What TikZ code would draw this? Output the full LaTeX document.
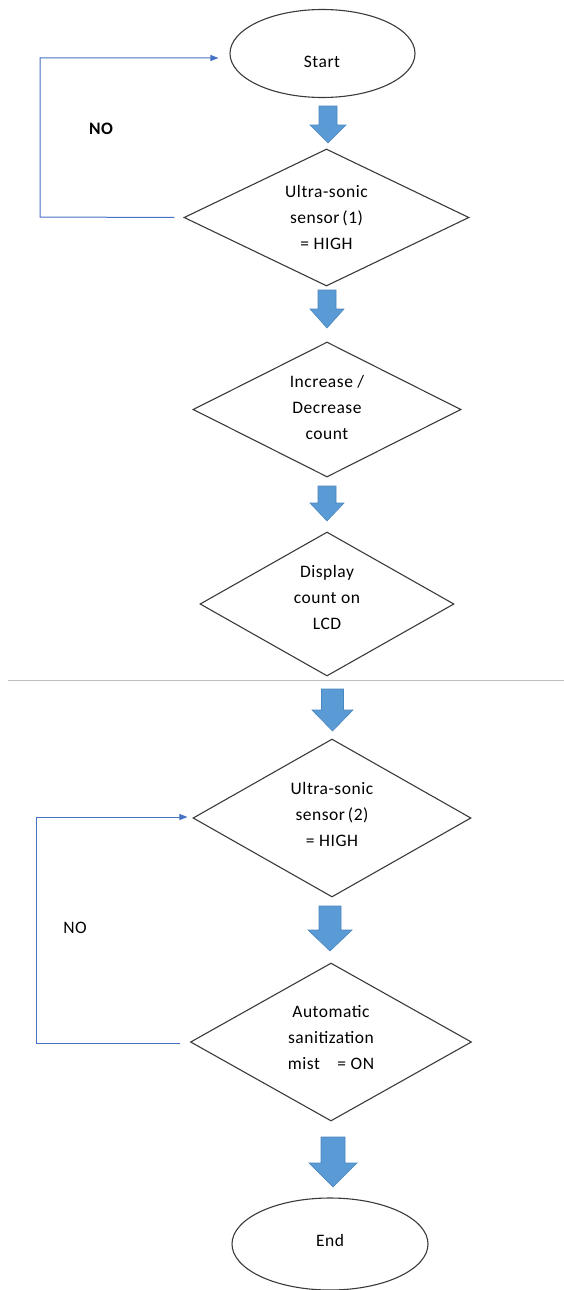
\documentclass[tikz,border=0pt]{standalone}
\usepackage{fontspec}
\setmainfont{Carlito}[LetterSpace=3]
\usetikzlibrary{shapes.geometric,arrows.meta}
\definecolor{barrowfill}{HTML}{5B9BD5}
\definecolor{barrowline}{HTML}{4A86BF}
\definecolor{loopblue}{HTML}{4472C4}
\definecolor{outline}{HTML}{3A3A3A}
\definecolor{sepgray}{HTML}{BFBFBF}
\tikzset{
  x=1pt, y=-1pt,
  dia/.style={draw=outline, line width=1.1pt, diamond, inner sep=0pt, minimum width=#1},
  ell/.style={draw=outline, line width=1.1pt, ellipse, inner sep=0pt},
  txt/.style={align=center, font=\fontsize{17.5}{26}\selectfont, inner sep=0pt},
  barrow/.style={fill=barrowfill, draw=barrowline, line width=0.6pt},
  loopline/.style={draw=loopblue, line width=1pt, -{Triangle[length=8pt,width=6pt]}},
  nolabel/.style={font=\fontsize{17.5}{20}\selectfont, inner sep=0pt}
}
\newcommand{\blockarrow}[6]{% cx, top, headstart, tip, shafthalf, headhalf
  \path[barrow] (#1-#5,#2) -- (#1+#5,#2) -- (#1+#5,#3) -- (#1+#6,#3) -- (#1,#4) -- (#1-#6,#3) -- (#1-#5,#3) -- cycle;}
\begin{document}
\begin{tikzpicture}
\useasboundingbox (0,0) rectangle (564,1290);
% nodes
\node[ell, minimum width=185pt, minimum height=88pt] (start) at (322.5,53.5) {};
\node[txt] (starttxt) at (322,62) {Start};
\node[dia=285pt, minimum height=137pt] (d1) at (326.5,217.5) {};
\node[txt] (d1txt) at (326.5,217) {Ultra-sonic\\sensor\,(1)\\= HIGH};
\node[dia=268pt, minimum height=135pt] (d2) at (327,409.5) {};
\node[txt] (d2txt) at (327,407) {Increase /\\Decrease\\count};
\node[dia=254pt, minimum height=144pt] (d3) at (327,604) {};
\node[txt] (d3txt) at (327,597) {Display\\count on\\LCD};
\node[dia=278pt, minimum height=158pt] (d4) at (332,818) {};
\node[txt] (d4txt) at (332,814) {Ultra-sonic\\sensor\,(2)\\= HIGH};
\node[dia=281pt, minimum height=158pt] (d5) at (331,1042) {};
\node[txt] (d5txt) at (331,1038) {Automatic\\sanitization\\mist\quad= ON};
\node[ell, minimum width=196pt, minimum height=92pt] (end) at (330,1244) {};
\node[txt] (endtxt) at (330,1240) {End};
% labels
\node[nolabel, font=\fontsize{17.5}{20}\selectfont\bfseries] (no1) at (101,129) {NO};
\node[nolabel] (no2) at (75,928) {NO};
% separator
\coordinate (sepL) at (8,680.5);
\coordinate (sepR) at (564,680.5);
\draw[sepgray, line width=1pt] (sepL) -- (sepR);
% block arrows
\blockarrow{328}{106}{125}{143}{9}{18}
\blockarrow{327}{290}{309}{328}{9}{17}
\blockarrow{327}{486}{503}{521}{9}{17}
\blockarrow{332.5}{689}{710}{731}{11}{20.5}
\blockarrow{330}{906}{930}{951}{11}{22}
\blockarrow{333}{1137}{1163}{1187}{12}{24}
% loops
\coordinate (loop1a) at (40,217);
\coordinate (loop1b) at (40,58);
\draw[loopline] ([xshift=-9pt]d1.west) -- (loop1a) -- (loop1b) -- ([xshift=-11pt,yshift=-4.5pt]start.west);
\coordinate (loop2a) at (36,1043);
\coordinate (loop2b) at (36,817);
\draw[loopline] ([xshift=-10pt,yshift=-1pt]d5.west) -- (loop2a) -- (loop2b) -- ([xshift=-5pt,yshift=1pt]d4.west);
\end{tikzpicture}
\end{document}
